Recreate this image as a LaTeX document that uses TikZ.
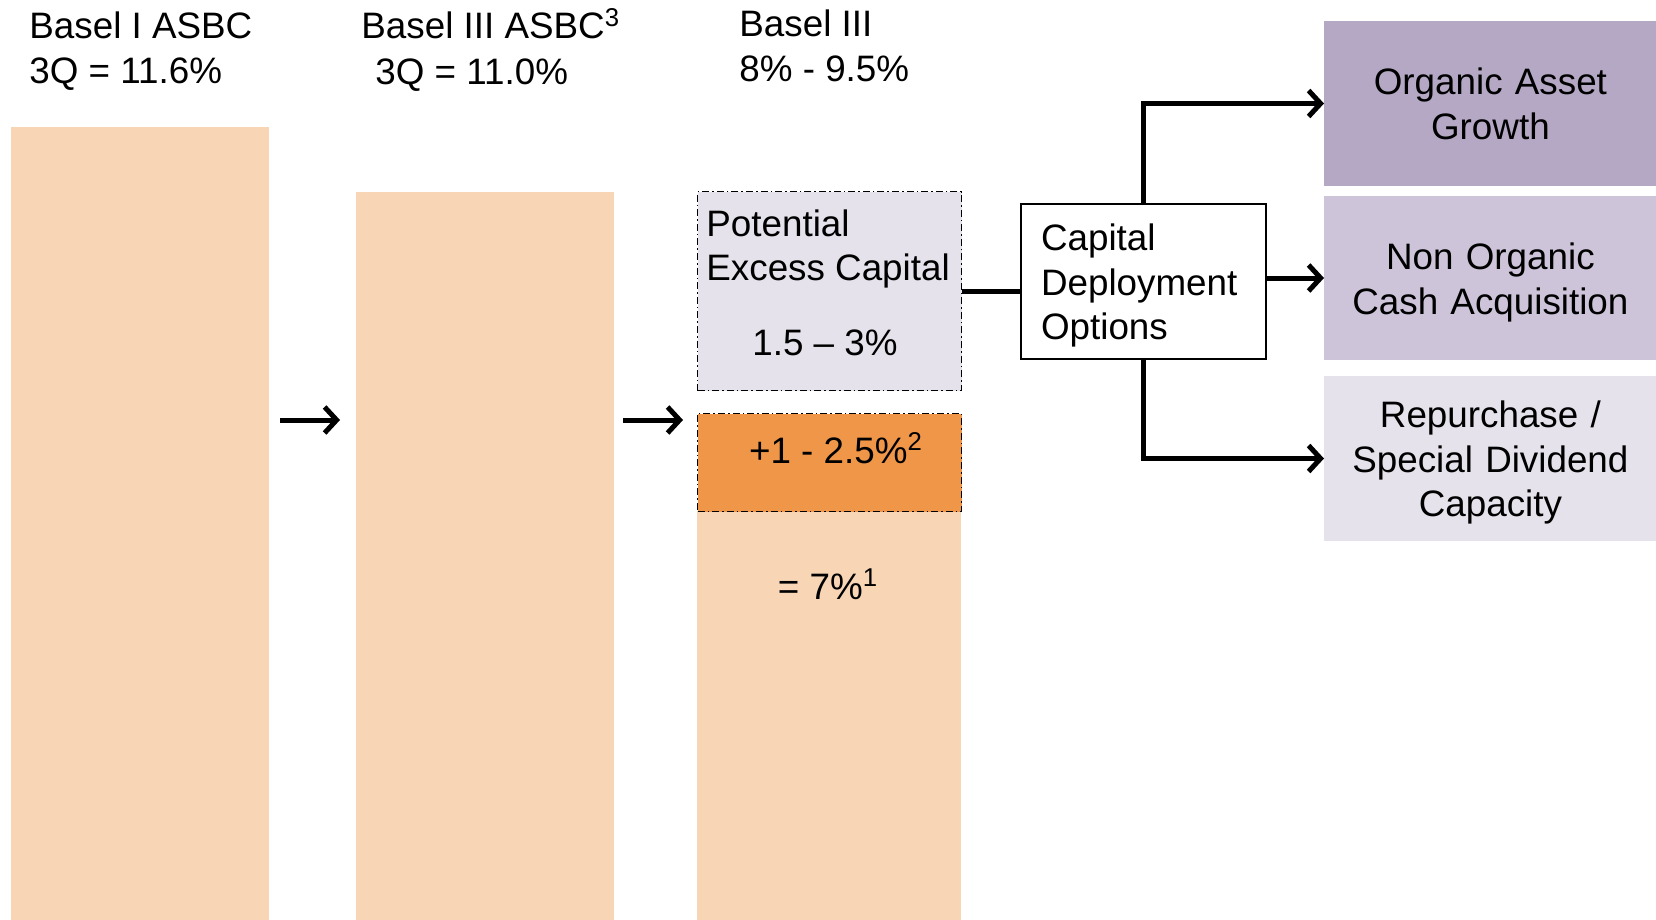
\documentclass[tikz,border=0pt]{standalone}
\usepackage{fontspec}
\setmainfont{Liberation Sans}
\usetikzlibrary{arrows.meta, positioning, calc}

\definecolor{peach}{HTML}{F8D5B5}
\definecolor{deeporange}{HTML}{F09648}
\definecolor{lilacdark}{HTML}{B5A8C5}
\definecolor{lilacmid}{HTML}{CDC4D9}
\definecolor{lilaclight}{HTML}{E5E2EB}

\begin{document}
\begin{tikzpicture}[
    x=0.5pt, y=-0.5pt,
    >={Straight Barb[length=6pt, width=13pt, line width=2.5pt]},
    font=\fontsize{18.4}{22.4}\selectfont,
    title/.style={inner sep=0pt, anchor=north west, align=left, font=\fontsize{18.4}{22.8}\selectfont},
    bar/.style={rectangle, fill=peach, inner sep=0pt, anchor=north west, minimum width=129pt},
    slab/.style={rectangle, inner sep=0pt, anchor=north west, minimum width=132pt, draw=black, line width=0.6pt, dash pattern=on 3.5pt off 1.5pt on 0.8pt off 1.5pt},
    option/.style={rectangle, text width=150pt, inner xsep=8pt, align=center, minimum height=82.5pt, anchor=west},
    lowered/.style={text height=17.5pt},
    link/.style={line width=2.5pt}
]
\useasboundingbox (0,0) rectangle (1656,920);

% Titles
\node[title] (t1) at (29,11) {Basel I ASBC\\3Q = 11.6\%};
\node[title] (t2) at (361,8) {Basel III ASBC\textsuperscript{3}\\\hspace*{7pt}3Q = 11.0\%};
\node[title] (t3) at (739,9) {Basel III\\8\% - 9.5\%};

% Bars
\node[bar, minimum height=396.5pt] (bar1) at (11,127) {};
\node[bar, minimum height=364pt] (bar2) at (356,192) {};
\node[bar, minimum width=132pt, minimum height=204.5pt] (bar3) at (697,511) {};
\node (base) at (828,584) {= 7\%\textsuperscript{1}};

\node[slab, fill=deeporange, minimum height=49pt] (buffer) at (697,413) {};
\node (bufval) at (836,448) {+1 - 2.5\%\textsuperscript{2}};

\node[slab, fill=lilaclight, minimum height=99.5pt] (excess) at (697,191) {};
\node[inner sep=0pt, anchor=north west, align=left] (exlbl) at (706,209) {Potential\\Excess Capital};
\node (exval) at (825,343) {1.5 -- 3\%};

% Deployment
\node[draw=black, line width=1pt, fill=white, text width=102.5pt, inner xsep=10pt, align=left, lowered, minimum height=77.5pt] (deploy) at (1143.5,281.5) {Capital\\Deployment\\Options};

\node[option, fill=lilacdark] (organic) at (1324,103.5) {Organic Asset\\Growth};
\node[option, lowered, fill=lilacmid, minimum height=82pt] (nonorg) at (1324,278) {Non Organic\\Cash Acquisition};
\node[option, lowered, fill=lilaclight] (repurch) at (1324,458.5) {Repurchase /\\Special Dividend\\Capacity};

% Links
\coordinate (s1) at (280,420);
\coordinate (e1) at (340,420);
\coordinate (s2) at (623,420);
\coordinate (e2) at (683,420);
\draw[link, ->] (s1) -- (e1);
\draw[link, ->] (s2) -- (e2);

\draw[link] (excess.east) -- (excess.east -| deploy.west);
\draw[link, ->] (deploy.north) |- (organic.west);
\draw[link, ->] (deploy.east |- nonorg.west) -- (nonorg.west);
\draw[link, ->] (deploy.south) |- (repurch.west);

\end{tikzpicture}
\end{document}
